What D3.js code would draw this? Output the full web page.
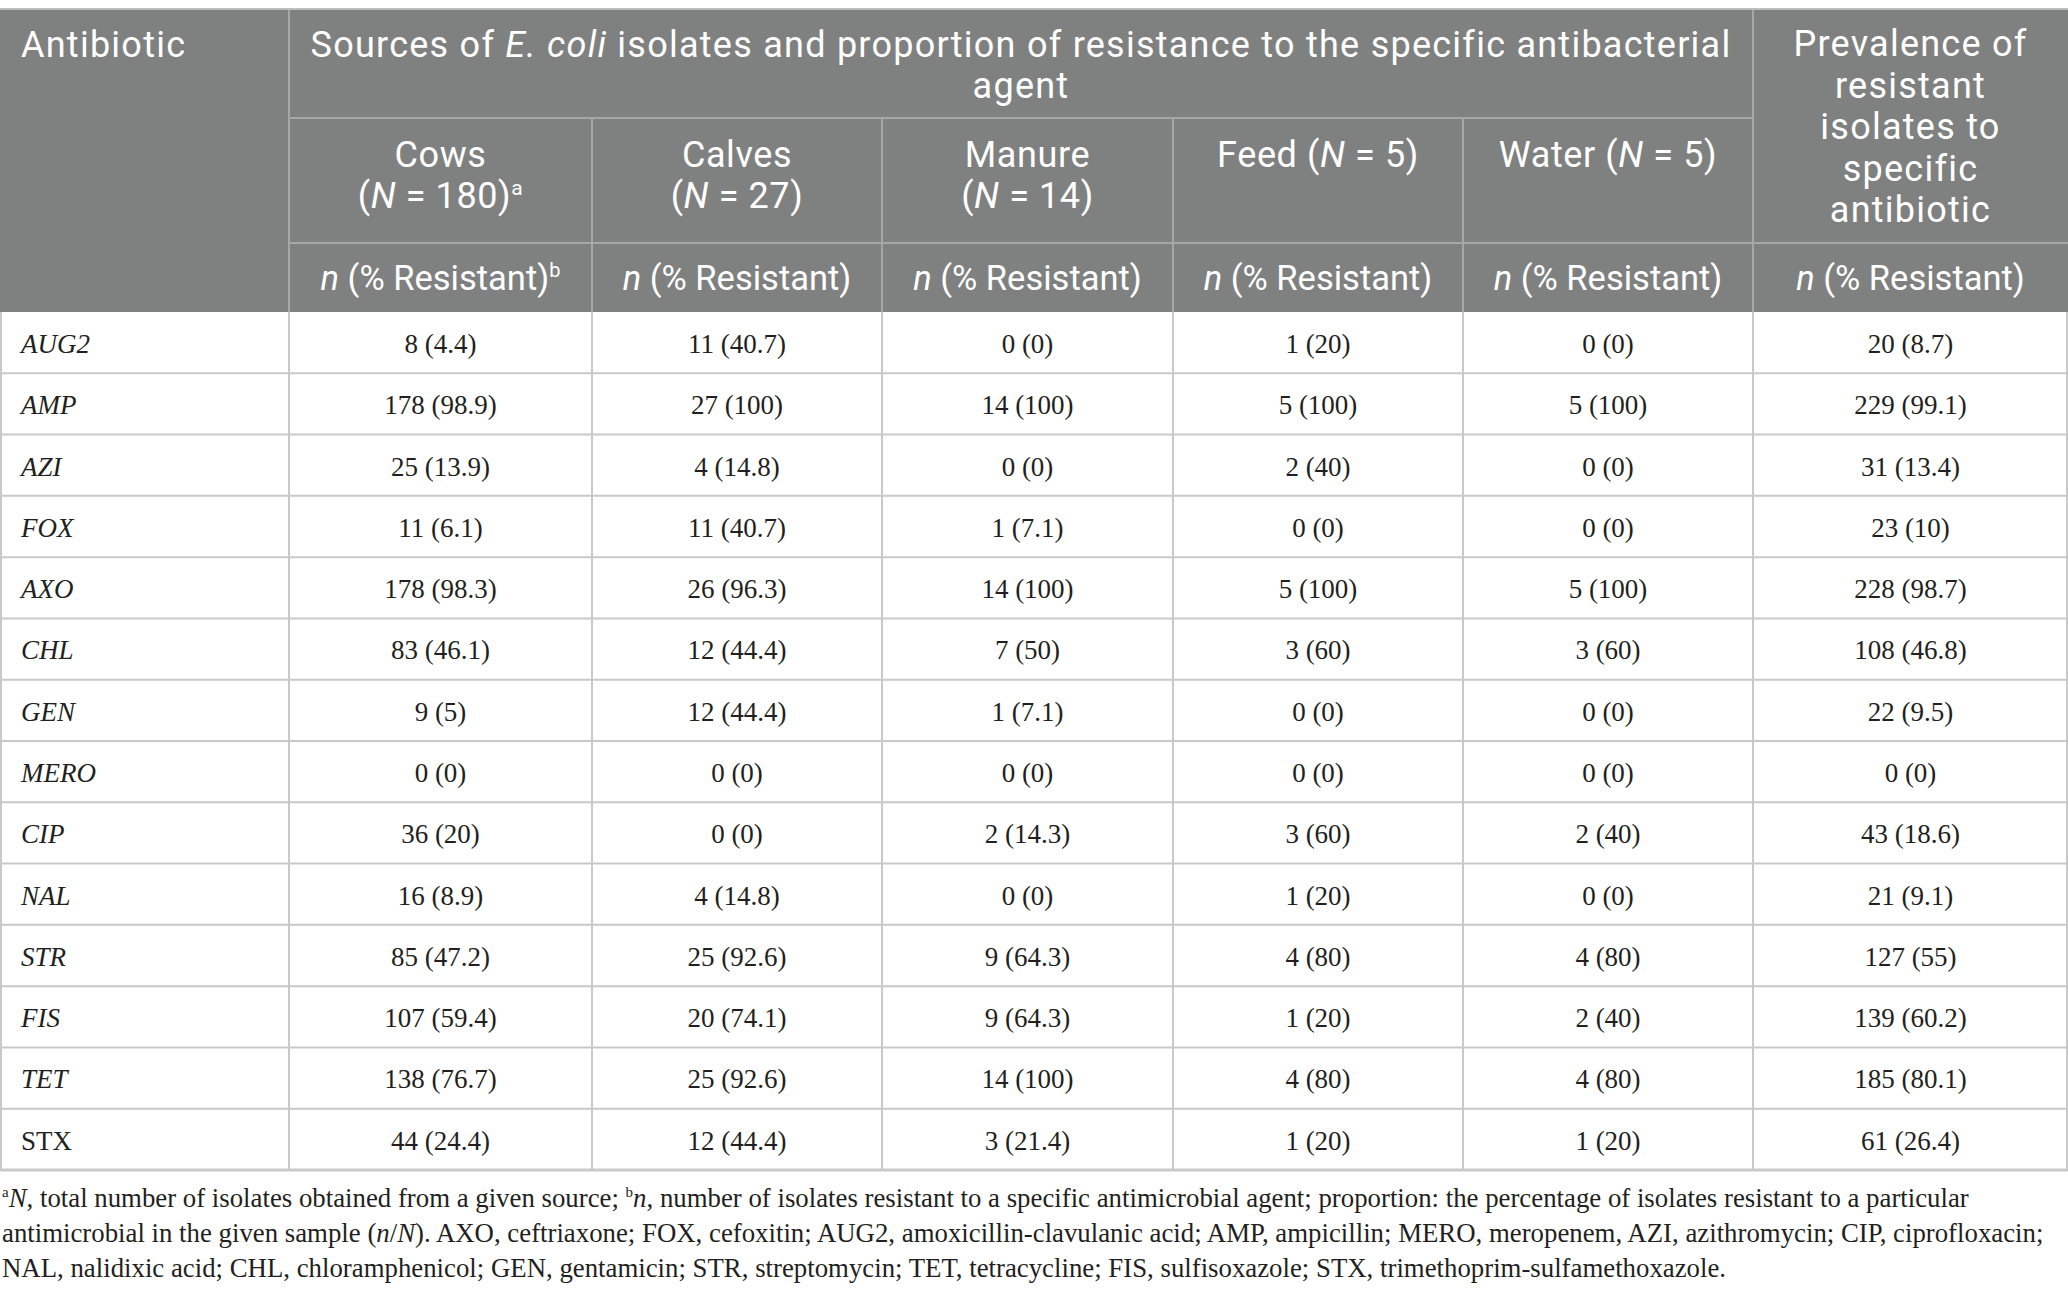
<!DOCTYPE html>
<html>
<head>
<meta charset="utf-8">
<script src="https://cdn.jsdelivr.net/npm/d3@7"></script>
<style>
  body { margin: 0; background: #fff; }
  svg { display: block; }
</style>
</head>
<body>
<div id="table"></div>
<script>
// table values
const antibiotics = ["AUG2", "AMP", "AZI", "FOX", "AXO", "CHL", "GEN", "MERO", "CIP", "NAL", "STR", "FIS", "TET", "STX"];
const italicNames = ["AUG2", "AMP", "AZI", "FOX", "AXO", "CHL", "GEN", "MERO", "CIP", "NAL", "STR", "FIS", "TET"];

const cowsN = [8, 178, 25, 11, 178, 83, 9, 0, 36, 16, 85, 107, 138, 44];
const cowsPct = [4.4, 98.9, 13.9, 6.1, 98.3, 46.1, 5, 0, 20, 8.9, 47.2, 59.4, 76.7, 24.4];
const calvesN = [11, 27, 4, 11, 26, 12, 12, 0, 0, 4, 25, 20, 25, 12];
const calvesPct = [40.7, 100, 14.8, 40.7, 96.3, 44.4, 44.4, 0, 0, 14.8, 92.6, 74.1, 92.6, 44.4];
const manureN = [0, 14, 0, 1, 14, 7, 1, 0, 2, 0, 9, 9, 14, 3];
const manurePct = [0, 100, 0, 7.1, 100, 50, 7.1, 0, 14.3, 0, 64.3, 64.3, 100, 21.4];
const feedN = [1, 5, 2, 0, 5, 3, 0, 0, 3, 1, 4, 1, 4, 1];
const feedPct = [20, 100, 40, 0, 100, 60, 0, 0, 60, 20, 80, 20, 80, 20];
const waterN = [0, 5, 0, 0, 5, 3, 0, 0, 2, 0, 4, 2, 4, 1];
const waterPct = [0, 100, 0, 0, 100, 60, 0, 0, 40, 0, 80, 40, 80, 20];
const totalN = [20, 229, 31, 23, 228, 108, 22, 0, 43, 21, 127, 139, 185, 61];
const totalPct = [8.7, 99.1, 13.4, 10, 98.7, 46.8, 9.5, 0, 18.6, 9.1, 55, 60.2, 80.1, 26.4];

const sources = ["Cows", "Calves", "Manure", "Feed", "Water"];
const sourceSizes = [180, 27, 14, 5, 5];

// layout
const W = 2068, H = 1302;
const colEdges = [0, 289, 592, 882, 1173, 1463, 1753, 2068];
const headTop = 9, head1 = 118, head2 = 243, headBottom = 312, tableBottom = 1170;
const headBg = "#7f8180", headLine = "#a6a8a7", gridLine = "#c9c9c9";
const sansFont = "Roboto, 'Open Sans', sans-serif";
const serifFont = "'Liberation Serif', 'DejaVu Serif', serif";

const svg = d3.select("#table").append("svg")
  .attr("width", W)
  .attr("height", H);

const y = d3.scaleBand()
  .domain(antibiotics)
  .range([headBottom, tableBottom]);

const colX = i => (colEdges[i] + colEdges[i + 1]) / 2;

// header background
svg.append("rect")
  .attr("x", 0).attr("y", headTop)
  .attr("width", W).attr("height", headBottom - headTop)
  .attr("fill", headBg);

// header lines
const hl = svg.append("g").attr("stroke", headLine).attr("stroke-width", 2);
hl.append("line").attr("x1", colEdges[1]).attr("x2", colEdges[6]).attr("y1", head1).attr("y2", head1);
hl.append("line").attr("x1", colEdges[1]).attr("x2", colEdges[7]).attr("y1", head2).attr("y2", head2);
[1, 6].forEach(i => hl.append("line").attr("x1", colEdges[i]).attr("x2", colEdges[i]).attr("y1", headTop).attr("y2", headBottom));
[2, 3, 4, 5].forEach(i => hl.append("line").attr("x1", colEdges[i]).attr("x2", colEdges[i]).attr("y1", head1).attr("y2", headBottom));
hl.append("line").attr("x1", 0).attr("x2", W).attr("y1", headTop).attr("y2", headTop).attr("stroke", "#bdbdbd");

const hText = svg.append("g")
  .attr("fill", "#fff")
  .attr("font-family", sansFont)
  .attr("font-size", 36)
  .attr("letter-spacing", 1.25);

hText.append("text").attr("x", 21).attr("y", 57).text("Antibiotic");

const titleX = (colEdges[1] + colEdges[6]) / 2;
const t1 = hText.append("text").attr("text-anchor", "middle").attr("x", titleX).attr("y", 57);
t1.append("tspan").text("Sources of ");
t1.append("tspan").attr("font-style", "italic").text("E. coli");
t1.append("tspan").text(" isolates and proportion of resistance to the specific antibacterial");
hText.append("text").attr("text-anchor", "middle").attr("x", titleX).attr("y", 98).text("agent");

const prevLines = ["Prevalence of", "resistant", "isolates to", "specific", "antibiotic"];
hText.selectAll("text.prev").data(prevLines).join("text")
  .attr("class", "prev")
  .attr("text-anchor", "middle")
  .attr("x", colX(6))
  .attr("y", (d, i) => 56 + i * 41.6)
  .text(d => d);

// source sub-headers
sources.forEach((s, i) => {
  const cx = colX(i + 1);
  if (i < 3) {
    hText.append("text").attr("text-anchor", "middle").attr("letter-spacing", 0.6)
      .attr("x", cx).attr("y", 167).text(s);
    const l2 = hText.append("text").attr("text-anchor", "middle").attr("letter-spacing", 0.6)
      .attr("x", cx).attr("y", 208);
    l2.append("tspan").text("(");
    l2.append("tspan").attr("font-style", "italic").text("N");
    l2.append("tspan").text(" = " + sourceSizes[i] + ")");
    if (i === 0) l2.append("tspan").attr("font-size", 21).attr("dy", -13).text("a");
  } else {
    const t = hText.append("text").attr("text-anchor", "middle").attr("letter-spacing", 0.6)
      .attr("x", cx).attr("y", 167);
    t.append("tspan").text(s + " (");
    t.append("tspan").attr("font-style", "italic").text("N");
    t.append("tspan").text(" = " + sourceSizes[i] + ")");
  }
});

// n (% Resistant) row
d3.range(1, 7).forEach(i => {
  const t = hText.append("text").attr("text-anchor", "middle")
    .attr("font-size", 34.5).attr("letter-spacing", 0)
    .attr("x", colX(i)).attr("y", 290);
  t.append("tspan").attr("font-style", "italic").text("n");
  t.append("tspan").text(" (% Resistant)");
  if (i === 1) t.append("tspan").attr("font-size", 20).attr("dy", -13).text("b");
});

// body grid
const grid = svg.append("g").attr("stroke", gridLine).attr("stroke-width", 2);
grid.selectAll("line.row")
  .data(antibiotics.slice(1))
  .join("line")
  .attr("class", "row")
  .attr("x1", 0).attr("x2", W)
  .attr("y1", d => y(d)).attr("y2", d => y(d));
grid.selectAll("line.col")
  .data(colEdges.slice(1, 7))
  .join("line")
  .attr("class", "col")
  .attr("x1", d => d).attr("x2", d => d)
  .attr("y1", headBottom).attr("y2", tableBottom);
grid.append("line").attr("x1", 0).attr("x2", W).attr("y1", tableBottom).attr("y2", tableBottom).attr("stroke-width", 3);
grid.append("line").attr("x1", 1).attr("x2", 1).attr("y1", headBottom).attr("y2", tableBottom);
grid.append("line").attr("x1", W - 1).attr("x2", W - 1).attr("y1", headBottom).attr("y2", tableBottom);

// body text
const body = svg.append("g")
  .attr("font-family", serifFont)
  .attr("font-size", 27)
  .attr("fill", "#231f20");

body.selectAll("text.name")
  .data(antibiotics)
  .join("text")
  .attr("class", "name")
  .attr("x", 21)
  .attr("y", d => y(d) + 41)
  .attr("font-style", d => italicNames.includes(d) ? "italic" : "normal")
  .text(d => d);

const columns = [
  [cowsN, cowsPct], [calvesN, calvesPct], [manureN, manurePct],
  [feedN, feedPct], [waterN, waterPct], [totalN, totalPct]
];

columns.forEach((c, ci) => {
  body.selectAll("text.c" + ci)
    .data(antibiotics)
    .join("text")
    .attr("class", "c" + ci)
    .attr("text-anchor", "middle")
    .attr("x", colX(ci + 1))
    .attr("y", d => y(d) + 41)
    .text((d, i) => c[0][i] + " (" + c[1][i] + ")");
});

// footnote
const foot = svg.append("g")
  .attr("font-family", serifFont)
  .attr("font-size", 26.8)
  .attr("fill", "#231f20");

const f1 = foot.append("text").attr("x", 2).attr("y", 1207);
f1.append("tspan").attr("font-size", 15).attr("dy", -10).text("a");
f1.append("tspan").attr("font-style", "italic").attr("dy", 10).text("N");
f1.append("tspan").text(", total number of isolates obtained from a given source; ");
f1.append("tspan").attr("font-size", 15).attr("dy", -10).text("b");
f1.append("tspan").attr("font-style", "italic").attr("dy", 10).text("n");
f1.append("tspan").text(", number of isolates resistant to a specific antimicrobial agent; proportion: the percentage of isolates resistant to a particular");

const f2 = foot.append("text").attr("x", 2).attr("y", 1242);
f2.append("tspan").text("antimicrobial in the given sample (");
f2.append("tspan").attr("font-style", "italic").text("n");
f2.append("tspan").text("/");
f2.append("tspan").attr("font-style", "italic").text("N");
f2.append("tspan").text("). AXO, ceftriaxone; FOX, cefoxitin; AUG2, amoxicillin-clavulanic acid; AMP, ampicillin; MERO, meropenem, AZI, azithromycin; CIP, ciprofloxacin;");

foot.append("text").attr("x", 2).attr("y", 1277)
  .text("NAL, nalidixic acid; CHL, chloramphenicol; GEN, gentamicin; STR, streptomycin; TET, tetracycline; FIS, sulfisoxazole; STX, trimethoprim-sulfamethoxazole.");
</script>
</body>
</html>
